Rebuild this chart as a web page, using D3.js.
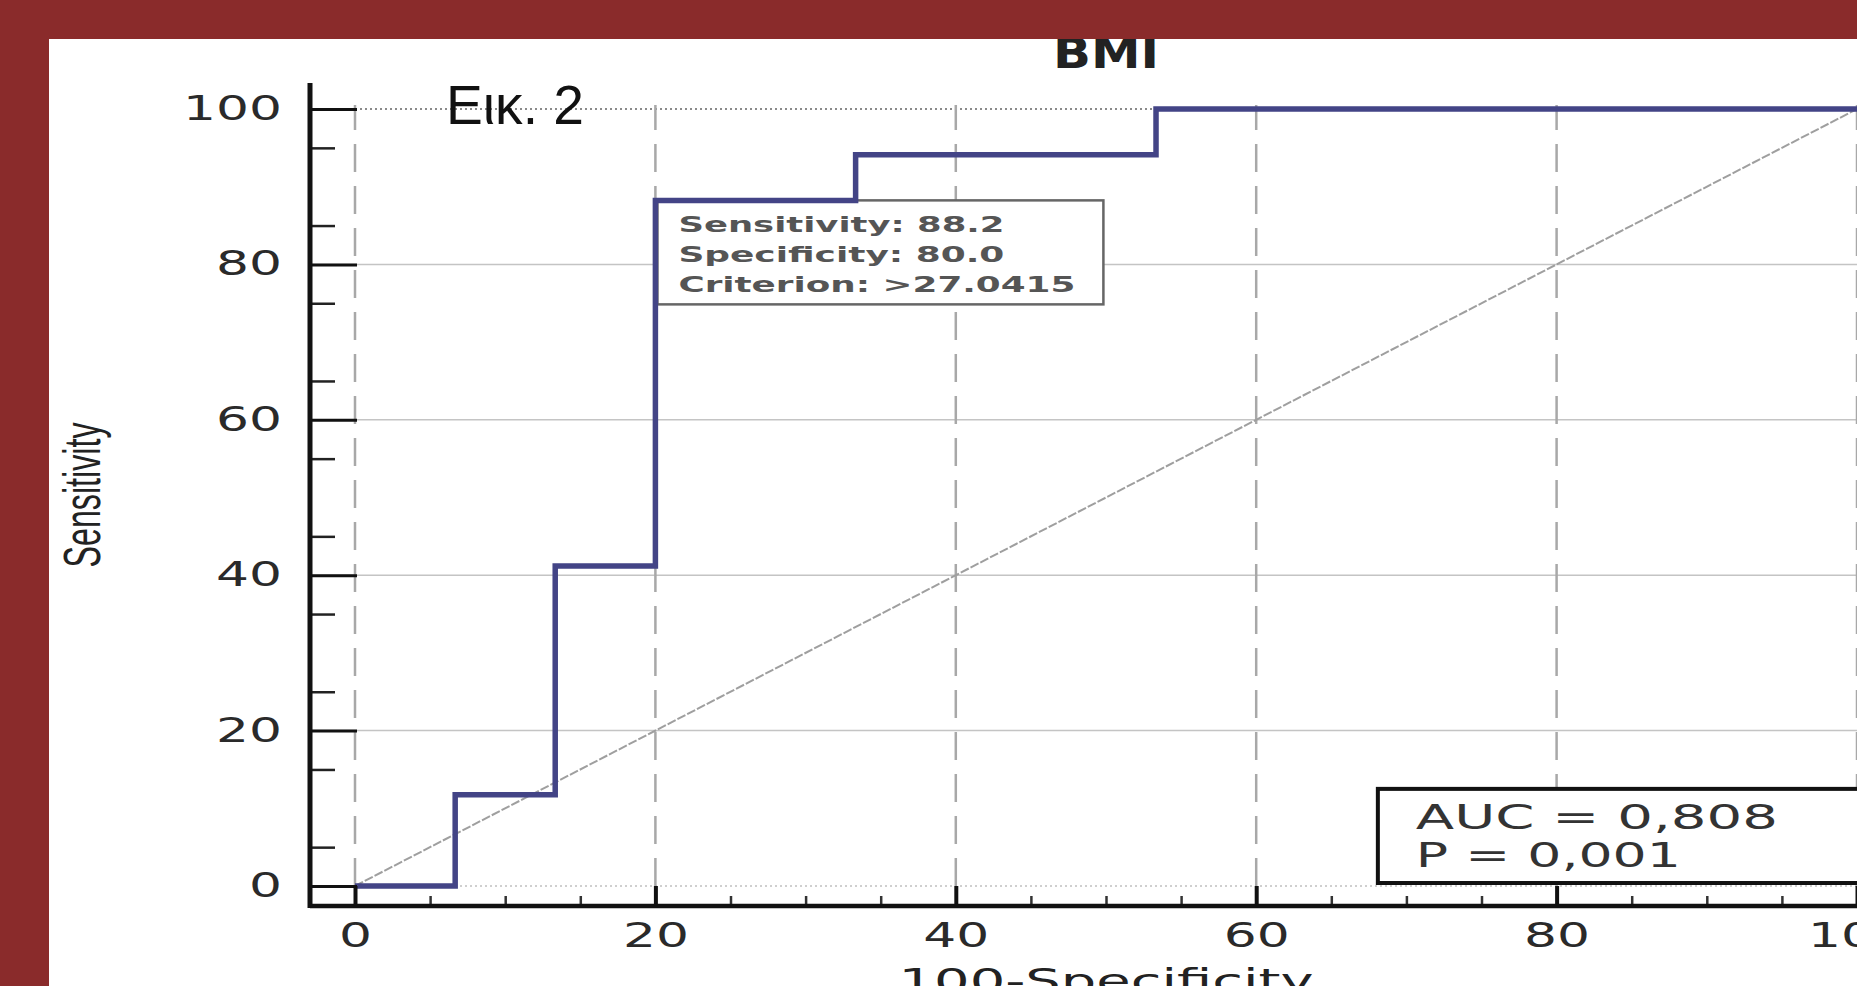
<!DOCTYPE html>
<html lang="el">
<head>
  <meta charset="UTF-8">
  <title>BMI ROC</title>
  <script src="https://d3js.org/d3.v7.min.js"></script>
  <style>
    body { margin: 0; background: #fff; }
    svg { display: block; }
  </style>
</head>
<body>
  <script>
    // data
    const fpr = [0, 6.67, 13.33, 20, 33.33, 53.33, 100];      // 100-Specificity
    const sens = [0, 11.76, 41.18, 88.24, 94.12, 100, 100];   // Sensitivity
    const xTicks = [0, 20, 40, 60, 80, 100];
    const yTicks = [0, 20, 40, 60, 80, 100];
    const criterionLines = ["Sensitivity: 88.2", "Specificity: 80.0", "Criterion: >27.0415"];
    const statLines = ["AUC = 0,808", "P = 0,001"];

    const width = 1857, height = 986;
    const svg = d3.select("body").append("svg")
      .attr("width", width)
      .attr("height", height);

    svg.append("rect").attr("width", width).attr("height", height).attr("fill", "#fff");

    const x = d3.scaleLinear().domain([0, 100]).range([355, 1857]);
    const y = d3.scaleLinear().domain([0, 100]).range([886, 109]);
    const axisX = 310, axisY = 906;
    const numFont = "'DejaVu Sans', sans-serif";

    // grid
    svg.append("g").selectAll("line")
      .data(yTicks.filter(d => d > 0 && d < 100))
      .join("line")
      .attr("x1", axisX).attr("x2", width)
      .attr("y1", d => y(d)).attr("y2", d => y(d))
      .attr("stroke", "#c4c4c4").attr("stroke-width", 1.5);

    svg.append("g").selectAll("line")
      .data([0, 100])
      .join("line")
      .attr("x1", axisX).attr("x2", width)
      .attr("y1", d => y(d)).attr("y2", d => y(d))
      .attr("stroke", d => d === 0 ? "#cfcfcf" : "#8a8a8a")
      .attr("stroke-width", 1.8)
      .attr("stroke-dasharray", "2,3");

    svg.append("g").selectAll("line")
      .data(xTicks)
      .join("line")
      .attr("x1", d => x(d)).attr("x2", d => x(d))
      .attr("y1", y(0)).attr("y2", y(100) - 4)
      .attr("stroke", "#a8a8a8").attr("stroke-width", 2.5)
      .attr("stroke-dasharray", "28,14");

    // chance diagonal
    svg.append("line")
      .attr("x1", x(0)).attr("y1", y(0))
      .attr("x2", x(100)).attr("y2", y(100))
      .attr("stroke", "#9f9f9f").attr("stroke-width", 2)
      .attr("stroke-dasharray", "9,2");

    // criterion box
    const bx = x(20) + 2, by = y(88.24);
    svg.append("rect")
      .attr("x", bx).attr("y", by)
      .attr("width", 446).attr("height", 104)
      .attr("fill", "#fff").attr("stroke", "#666").attr("stroke-width", 2.5);

    const lens = [326, 326, 397];
    svg.append("g").selectAll("text")
      .data(criterionLines)
      .join("text")
      .attr("x", bx + 21)
      .attr("y", (d, i) => by + 32 + i * 30)
      .attr("font-family", numFont).attr("font-size", 22).attr("font-weight", "bold")
      .attr("fill", "#555")
      .attr("textLength", (d, i) => lens[i]).attr("lengthAdjust", "spacingAndGlyphs")
      .text(d => d);

    // ROC curve
    const line = d3.line()
      .x((d, i) => x(fpr[i]))
      .y(d => y(d))
      .curve(d3.curveStepAfter);

    svg.append("path")
      .datum(sens)
      .attr("d", line)
      .attr("fill", "none")
      .attr("stroke", "#434486")
      .attr("stroke-width", 5.5)
      .attr("stroke-linejoin", "miter");

    // AUC box
    const ax0 = x(68.1), ay0 = y(12.5);
    svg.append("rect")
      .attr("x", ax0).attr("y", ay0)
      .attr("width", 520).attr("height", y(0) - 3 - ay0)
      .attr("fill", "#fff").attr("stroke", "#111").attr("stroke-width", 4);

    const statLens = [362, 265];
    svg.append("g").selectAll("text")
      .data(statLines)
      .join("text")
      .attr("x", ax0 + 38)
      .attr("y", (d, i) => ay0 + 40 + i * 38)
      .attr("font-family", numFont).attr("font-size", 33)
      .attr("fill", "#333")
      .attr("textLength", (d, i) => statLens[i]).attr("lengthAdjust", "spacingAndGlyphs")
      .text(d => d);

    // axes
    const styleLabels = g => g.selectAll(".tick text")
      .attr("font-family", numFont).attr("font-size", 33).attr("fill", "#2a2a2a")
      .attr("textLength", d => String(d).length * 33)
      .attr("lengthAdjust", "spacingAndGlyphs");

    const yAxis = svg.append("g")
      .attr("transform", `translate(${axisX},0)`)
      .call(d3.axisLeft(y).tickValues(yTicks).tickSize(-47).tickPadding(28).tickSizeOuter(0))
      .call(styleLabels);
    yAxis.select(".domain").remove();
    yAxis.selectAll(".tick line").attr("stroke", "#111").attr("stroke-width", 3);

    const yMinor = svg.append("g")
      .attr("transform", `translate(${axisX},0)`)
      .call(d3.axisLeft(y).tickValues(d3.range(5, 100, 10)).tickSize(-25).tickFormat(""));
    yMinor.select(".domain").remove();
    yMinor.selectAll(".tick line").attr("stroke", "#222").attr("stroke-width", 2.5);

    const xAxis = svg.append("g")
      .attr("transform", `translate(0,${axisY})`)
      .call(d3.axisBottom(x).tickValues(xTicks).tickSize(-20).tickPadding(18).tickSizeOuter(0))
      .call(styleLabels);
    xAxis.select(".domain").remove();
    xAxis.selectAll(".tick line").attr("stroke", "#111").attr("stroke-width", 4);

    const xMinor = svg.append("g")
      .attr("transform", `translate(0,${axisY})`)
      .call(d3.axisBottom(x).tickValues(d3.range(5, 100, 5).filter(d => d % 20 !== 0)).tickSize(-10).tickFormat(""));
    xMinor.select(".domain").remove();
    xMinor.selectAll(".tick line").attr("stroke", "#333").attr("stroke-width", 2.5);

    // axis lines
    svg.append("line")
      .attr("x1", axisX).attr("x2", axisX)
      .attr("y1", 83).attr("y2", axisY + 2)
      .attr("stroke", "#111").attr("stroke-width", 5);
    svg.append("line")
      .attr("x1", axisX).attr("x2", width)
      .attr("y1", axisY).attr("y2", axisY)
      .attr("stroke", "#111").attr("stroke-width", 4.5);

    // titles
    svg.append("text")
      .attr("x", x(50)).attr("y", 993)
      .attr("text-anchor", "middle")
      .attr("font-family", numFont).attr("font-size", 33).attr("fill", "#222")
      .attr("textLength", 415).attr("lengthAdjust", "spacingAndGlyphs")
      .text("100-Specificity");

    svg.append("text")
      .attr("transform", "translate(100,495) rotate(-90)")
      .attr("text-anchor", "middle")
      .attr("font-family", "'Liberation Sans', Arial, sans-serif").attr("font-size", 52)
      .attr("fill", "#222")
      .attr("textLength", 145).attr("lengthAdjust", "spacingAndGlyphs")
      .text("Sensitivity");

    svg.append("text")
      .attr("x", 446).attr("y", 124)
      .attr("font-family", "'Liberation Sans', Arial, sans-serif").attr("font-size", 55)
      .attr("fill", "#111")
      .attr("textLength", 138).attr("lengthAdjust", "spacingAndGlyphs")
      .text("Εικ. 2");

    svg.append("text")
      .attr("x", x(50)).attr("y", 68)
      .attr("text-anchor", "middle")
      .attr("font-family", numFont).attr("font-size", 42).attr("font-weight", "bold")
      .attr("fill", "#222")
      .attr("textLength", 106).attr("lengthAdjust", "spacingAndGlyphs")
      .text("BMI");

    // dark red frame
    svg.append("rect").attr("x", 0).attr("y", 0).attr("width", width).attr("height", 39).attr("fill", "#8a2b2b");
    svg.append("rect").attr("x", 0).attr("y", 0).attr("width", 49).attr("height", height).attr("fill", "#8a2b2b");
  </script>
</body>
</html>
